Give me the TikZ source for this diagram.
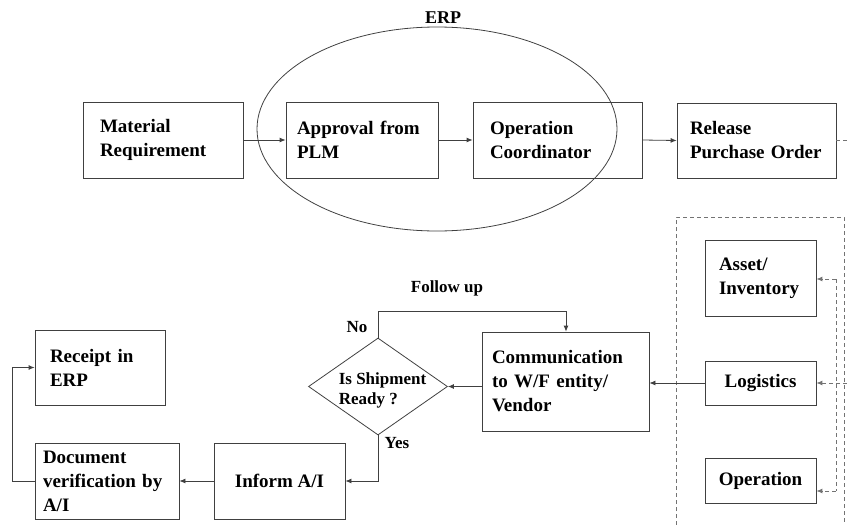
\documentclass[tikz,border=0pt]{standalone}
\usepackage{fontspec}
\setmainfont{Liberation Serif}
\usetikzlibrary{arrows.meta,shapes.geometric}
\begin{document}
\begin{tikzpicture}[x=1pt,y=-1pt,
  line/.style={draw=black!75, line width=0.8pt},
  arr/.style={line, -{Latex[length=6pt,width=5pt]}},
  dsh/.style={draw=black!55, line width=0.9pt, dash pattern=on 4pt off 3pt},
  darr/.style={dsh, -{Latex[length=6pt,width=5pt]}},
  box/.style={line, rectangle, inner ysep=0pt, align=left, text=black,
    font=\bfseries\fontsize{19}{24}\selectfont},
  lbl/.style={font=\bfseries\fontsize{17}{20}\selectfont, inner sep=0pt}
]
\useasboundingbox (0,0) rectangle (847,525);

% ERP ellipse
\node[ellipse, line, minimum width=360, minimum height=204, inner sep=0pt] (erp) at (437,129) {};
\node[font=\bfseries\fontsize{18}{20}\selectfont, inner sep=0pt] (erplbl) at (443,18) {ERP};

% top row
\node[box, minimum width=160, minimum height=76, text width=126, inner xsep=17] (mr) at (163,140) {Material\\Requirement};
\node[box, minimum width=152, minimum height=76, text width=130, inner xsep=11] (ap) at (362,140) {Approval from\\PLM};
\node[box, minimum width=169, minimum height=76, text width=135, inner xsep=17] (oc) at (557.5,140) {Operation\\Coordinator};
\node[box, minimum width=159, minimum height=75, text width=133, inner xsep=13] (rpo) at (756.5,140.5) {Release\\Purchase Order};
\coordinate (rpoout) at (847,140.5);

\draw[arr] (mr.east) -- (ap.west);
\draw[arr] (ap.east) -- (oc.west);
\draw[arr] (oc.east) -- (rpo.west);
\draw[dsh] (rpo.east) -- (rpoout);

% dashed group
\coordinate (g1) at (676,525);
\coordinate (g2) at (676,217);
\coordinate (g3) at (844,217);
\coordinate (g4) at (844,525);
\draw[dsh] (g1) -- (g2) -- (g3) -- (g4);

\node[box, minimum width=111, minimum height=76, text width=83, inner xsep=14] (ai) at (760.5,278) {Asset/\\Inventory};
\node[box, minimum width=111, minimum height=44, inner xsep=0pt] (log) at (760.5,383) {Logistics};
\node[box, minimum width=111, minimum height=45, inner xsep=0pt] (op) at (760.5,480.5) {Operation};

\coordinate (d1) at (836,279);
\coordinate (d3) at (836,491);
\coordinate (dr) at (847,383);
\draw[dsh] (d1) -- (d3);
\draw[darr] (d1) -- (ai.east |- d1);
\draw[darr] (dr) -- (log.east);
\draw[darr] (d3) -- (op.east |- d3);

% middle
\node[box, minimum width=167, minimum height=99, text width=147, inner xsep=10] (comm) at (565.5,381.5) {Communication\\to W/F entity/\\Vendor};
\node[diamond, line, minimum width=139, minimum height=97, inner sep=0pt] (dia) at (378,386.5) {};
\node[font=\bfseries\fontsize{17}{20}\selectfont, align=left, inner sep=0pt] (diatxt) at (382.5,390) {Is Shipment\\Ready ?};

\draw[arr] (log.west) -- (log.west -| comm.east);
\draw[arr] (comm.west |- dia.east) -- (dia.east);
\coordinate (fu) at (566,311);
\draw[arr] (dia.north) |- (fu) -- (comm.north -| fu);

\node[lbl] (fulbl) at (447,288) {Follow up};
\node[lbl] (nolbl) at (357,327) {No};
\node[lbl] (yeslbl) at (397,443) {Yes};

% bottom
\node[box, minimum width=131, minimum height=76, inner xsep=0pt] (inf) at (279.5,481) {Inform A/I};
\node[box, minimum width=144, minimum height=76, text width=128, inner xsep=8] (doc) at (107,481) {Document\\verification by\\A/I};
\node[box, minimum width=130, minimum height=75, text width=100, inner xsep=15] (rcpt) at (100,367.5) {Receipt in\\ERP};

\draw[arr] (dia.south) |- (inf.east);
\draw[arr] (inf.west) -- (doc.west -| doc.east);
\coordinate (lp) at (12,481);
\draw[arr] (doc.west) -- (lp) |- (rcpt.west);
\end{tikzpicture}
\end{document}
